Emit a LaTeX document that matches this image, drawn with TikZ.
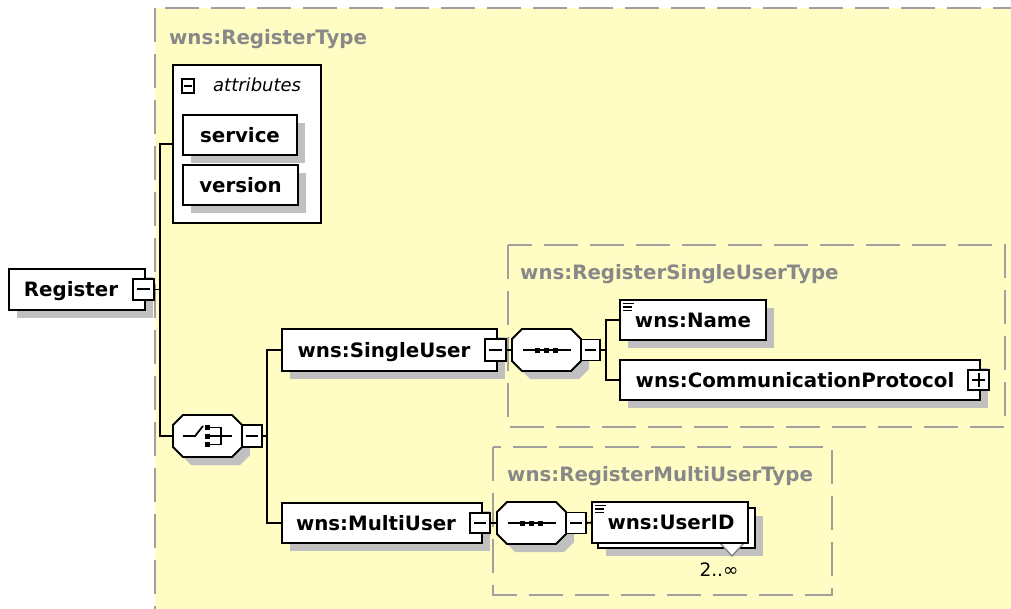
\documentclass[tikz,border=0pt]{standalone}
\usepackage{fontspec}
\setmainfont{DejaVu Sans}
\usetikzlibrary{shadows,calc}

\definecolor{bgyellow}{RGB}{255,253,196}
\definecolor{dashgray}{RGB}{160,160,160}
\definecolor{labgray}{RGB}{136,136,136}
\definecolor{shgray}{RGB}{192,192,192}

\tikzset{
  conn/.style={line width=1.8pt},
  plainbox/.style={draw, fill=white, line width=1.8pt, rectangle,
    inner sep=0pt, outer sep=0pt, anchor=north west},
  elbox/.style={plainbox,
    general shadow={fill=shgray, shadow xshift=8pt, shadow yshift=-8pt}},
  eltext/.style={font=\fontsize{19.8}{20}\selectfont\bfseries,
    inner sep=0pt, text height=14.4pt, text depth=0pt},
  typelabel/.style={eltext, text=labgray, anchor=west},
  typebox/.style={draw=dashgray, line width=1.8pt, dash pattern=on 34pt off 12pt},
  minusbox/.style={draw, fill=white, line width=1.8pt, rectangle,
    inner sep=0pt, outer sep=0pt, minimum width=20pt, minimum height=21pt,
    path picture={\draw[line width=2pt]
      ([xshift=4pt]path picture bounding box.west) --
      ([xshift=-4pt]path picture bounding box.east);}},
  smallminus/.style={draw, fill=white, line width=1.5pt, rectangle,
    inner sep=0pt, outer sep=0pt, minimum width=12pt, minimum height=14pt,
    path picture={\draw[line width=1.6pt]
      ([xshift=2pt]path picture bounding box.west) --
      ([xshift=-2pt]path picture bounding box.east);}},
  plusbox/.style={draw, fill=white, line width=1.8pt, rectangle,
    inner sep=0pt, outer sep=0pt, minimum width=21pt, minimum height=20pt,
    path picture={\draw[line width=2pt]
      ([xshift=4pt]path picture bounding box.west) --
      ([xshift=-4pt]path picture bounding box.east);
      \draw[line width=2pt]
      ([yshift=-3pt]path picture bounding box.north) --
      ([yshift=3pt]path picture bounding box.south);}},
  octnode/.style={draw=none, rectangle, inner sep=0pt, outer sep=0pt,
    minimum width=69pt, minimum height=42pt, anchor=north west},
  mult/.style={font=\fontsize{18.5}{19}\selectfont, inner sep=0pt},
  attrtext/.style={font=\fontsize{18}{18}\selectfont\itshape,
    inner sep=0pt, anchor=base west},
}

% compositor octagon with its shadow; #1 name, #2 top-left corner
\newcommand\octbox[2]{%
  \node[octnode] (#1) at (#2) {};
  \fill[shgray] ([shift={(18pt,-8pt)}]#1.north west) -- ++(49,0) -- ++(10,10)
    -- ++(0,22) -- ++(-10,10) -- ++(-49,0) -- ++(-10,-10) -- ++(0,-22) -- cycle;
  \filldraw[fill=white, line width=1.8pt] ([xshift=10pt]#1.north west)
    -- ++(49,0) -- ++(10,10) -- ++(0,22) -- ++(-10,10) -- ++(-49,0)
    -- ++(-10,-10) -- ++(0,-22) -- cycle;
}
% sequence glyph: a line through three dots
\newcommand\seqglyph[1]{%
  \begin{scope}[shift={(#1.center)}]
    \draw[line width=1.8pt] (-24,0) -- (24,0);
    \fill (-11.5,-2.5) rectangle ++(5,5);
    \fill (-2.5,-2.5) rectangle ++(5,5);
    \fill (6.5,-2.5) rectangle ++(5,5);
  \end{scope}
}
% simple-content mark in the corner of an element box
\newcommand\textmark[1]{%
  \begin{scope}[shift={(#1.north west)}, line width=1.5pt]
    \draw (3,3.5) -- ++(11,0);
    \draw (3,7) -- ++(9,0);
    \draw (3,10.5) -- ++(9,0);
  \end{scope}
}

\begin{document}
\begin{tikzpicture}[x=1pt, y=-1pt]
  \useasboundingbox (0,0) rectangle (1011,609);
  \clip (0,0) rectangle (1011,609);

  % complex type areas
  \draw[typebox, fill=bgyellow] (155,8) rectangle (1040,640);
  \node[typelabel] (rtlab) at (169,37.5) {wns:RegisterType};
  \draw[typebox] (508,245) rectangle (1005,427);
  \node[typelabel] (sutlab) at (520,272) {wns:RegisterSingleUserType};
  \draw[typebox] (493,447) rectangle (832,595);
  \node[typelabel] (mutlab) at (507,474) {wns:RegisterMultiUserType};

  % root element
  \node[elbox, minimum width=136pt, minimum height=41pt] (reg) at (9,269) {};
  \node[minusbox, minimum width=21pt] (regm) at (143.5,289.5) {};
  \node[eltext] (regt) at (71,289.5) {Register};

  % attribute group
  \node[plainbox, minimum width=148pt, minimum height=158pt] (attrs) at (173,65) {};
  \node[smallminus] (attrm) at (188,86) {};
  \node[attrtext] (attrt) at (213,92) {attributes};
  \node[elbox, eltext, minimum width=114pt, minimum height=40pt] (svc) at (183,115) {service};
  \node[elbox, eltext, minimum width=115pt, minimum height=40pt] (ver) at (183,165) {version};

  % choice compositor
  \octbox{ch}{173,415}
  \node[minusbox, minimum height=22pt] (chm) at (252,436) {};
  \begin{scope}[shift={(ch.center)}, line width=1.8pt]
    \draw (-24.5,0) -- (-12.5,0) -- (-4.5,-10);
    \fill (-2.5,-11) rectangle ++(5,5);
    \fill (-2.5,-2.5) rectangle ++(5,5);
    \fill (-2.5,6) rectangle ++(5,5);
    \draw (2.5,-8.5) -- (13.5,-8.5) -- (13.5,8.5) -- (2.5,8.5);
    \draw (2.5,0) -- (24,0);
  \end{scope}

  % single user branch
  \node[elbox, minimum width=215pt, minimum height=42pt] (su) at (282,329) {};
  \node[minusbox, minimum width=21pt, minimum height=22pt] (sum) at (495.5,350) {};
  \node[eltext] (sut) at (384,350) {wns:SingleUser};
  \octbox{seqa}{512,329}
  \seqglyph{seqa}
  \node[minusbox, minimum width=19pt] (seqam) at (590.5,350) {};
  \node[elbox, eltext, minimum width=146pt, minimum height=40pt] (name) at (620,300) {wns:Name};
  \textmark{name}
  \node[elbox, minimum width=360pt, minimum height=40pt] (cp) at (620,360) {};
  \node[plusbox] (cpp) at (978.5,380) {};
  \node[eltext] (cpt) at (795,380) {wns:CommunicationProtocol};

  % multi user branch
  \node[elbox, minimum width=200pt, minimum height=40pt] (mu) at (282,503) {};
  \node[minusbox, minimum height=20pt] (mum) at (480,523) {};
  \node[eltext] (mut) at (376,523) {wns:MultiUser};
  \octbox{seqb}{497,502}
  \seqglyph{seqb}
  \node[minusbox] (seqbm) at (576,523) {};
  \node[elbox, minimum width=157pt, minimum height=40pt] (uidb) at (598,508) {};
  \fill[white] (720,543) -- (744,543) -- (732,556) -- cycle;
  \draw[draw=gray, line width=1.3pt] (720,543) -- (732,556) -- (744,543);
  \node[plainbox, minimum width=156pt, minimum height=41pt] (uid) at (592,502) {};
  \textmark{uid}
  \node[eltext] (uidt) at (671,522.5) {wns:UserID};
  \node[mult] (uidmult) at (719,570) {2..∞};

  % connectors
  \draw[conn] (regm.east) -- ++(6,0) |- (attrs.west);
  \draw[conn] (regm.east) -- ++(6,0) |- (ch.west);
  \draw[conn] (chm.east) -- ++(5,0) |- (su.west);
  \draw[conn] (chm.east) -- ++(5,0) |- (mu.west);
  \draw[conn] (sum.east) -- (seqa.west);
  \draw[conn] (seqam.east) -- ++(6,0) |- (name.west);
  \draw[conn] (seqam.east) -- ++(6,0) |- (cp.west);
  \draw[conn] (mum.east) -- (seqb.west);
  \draw[conn] (seqbm.east) -- (uid.west);
\end{tikzpicture}
\end{document}
